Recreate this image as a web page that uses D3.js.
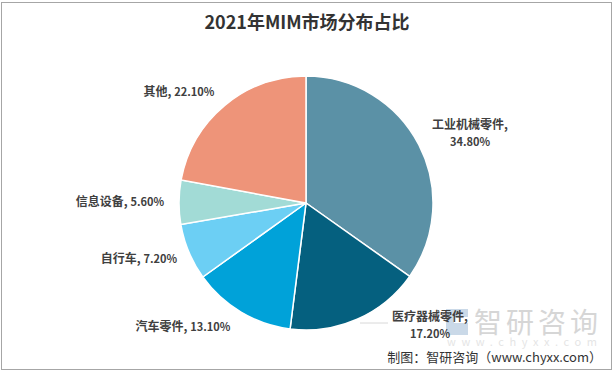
<!DOCTYPE html>
<html><head><meta charset="utf-8">
<script src="https://cdn.jsdelivr.net/npm/d3@7"></script>
<style>body{margin:0;background:#fff}svg{display:block}text{font-family:"Noto Sans CJK SC","Microsoft YaHei",sans-serif}</style>
</head><body>
<svg id="c" width="614" height="372"></svg>
<script>
const categories = ["工业机械零件", "医疗器械零件", "汽车零件", "自行车", "信息设备", "其他"];
const values = [34.8, 17.2, 13.1, 7.2, 5.6, 22.1];
const colors = ["#5b91a6", "#05607f", "#00a2d9", "#6ccff4", "#a2dbd6", "#ee9479"];
const labelPos = [
  {x: 470, y: 129, two: true, anchor: "middle"},
  {x: 430, y: 321, two: true, anchor: "middle"},
  {x: 183, y: 331, anchor: "middle"},
  {x: 139, y: 263, anchor: "middle"},
  {x: 120, y: 206, anchor: "middle"},
  {x: 179, y: 96, anchor: "middle"}
];
const svg = d3.select("#c");
svg.append("rect").attr("x",1.5).attr("y",2.5).attr("width",610).attr("height",367)
  .attr("fill","#fff").attr("stroke","#a6a6a6").attr("stroke-width",1);
svg.append("text").attr("x",307).attr("y",29).attr("text-anchor","middle")
  .attr("font-size",18).attr("font-weight","bold").attr("fill","#333").text("2021年MIM市场分布占比");

const cx=306, cy=203, r=127;
const pie = d3.pie().sort(null).value(d=>d.v);
const arcs = pie(categories.map((c,i)=>({c, v: values[i], i})));
const arc = d3.arc().innerRadius(0).outerRadius(r);
const g = svg.append("g").attr("transform",`translate(${cx},${cy})`);
g.selectAll("path").data(arcs).join("path").attr("d",arc)
  .attr("fill",d=>colors[d.data.i]).attr("stroke","#fff").attr("stroke-width",1.5);

// watermark
const wm = svg.append("g").attr("opacity",0.55);
wm.append("path").attr("d","M446,309 h22 v8 h-14 v6 h14 v12 h-22 z").attr("fill","#9fbbd6");
wm.append("text").attr("x",474).attr("y",333).attr("font-size",28).attr("fill","#b5b5b5").attr("letter-spacing",4).text("智研咨询");
wm.append("text").attr("x",447).attr("y",346).attr("font-size",11).attr("fill","#d0d0d0")
  .attr("textLength",150).attr("lengthAdjust","spacing").attr("font-family","Arial, sans-serif").text("www.chyxx.com");

// leader line for 医疗器械零件
svg.append("line").attr("x1",360).attr("y1",323).attr("x2",388).attr("y2",323).attr("stroke","#d8d8d8").attr("stroke-width",1);

const lab = svg.append("g");
arcs.forEach((d,i)=>{
  const p = labelPos[i];
  const t = lab.append("text").attr("x",p.x).attr("y",p.y).attr("text-anchor",p.anchor)
    .attr("font-size",11).attr("font-weight","bold").attr("fill","#404040");
  const pct = values[i].toFixed(2)+"%";
  if (p.two) {
    t.append("tspan").attr("x",p.x).attr("font-size",12).text(categories[i]+",");
    t.append("tspan").attr("x",p.x).attr("dy",17).text(pct);
  } else {
    t.append("tspan").attr("font-size",12).text(categories[i]+", ");
    t.append("tspan").text(pct);
  }
});

svg.append("text").attr("x",602).attr("y",362).attr("text-anchor","end")
  .attr("font-size",13).attr("fill","#333").text("制图：智研咨询（www.chyxx.com）");
</script>
</body></html>
